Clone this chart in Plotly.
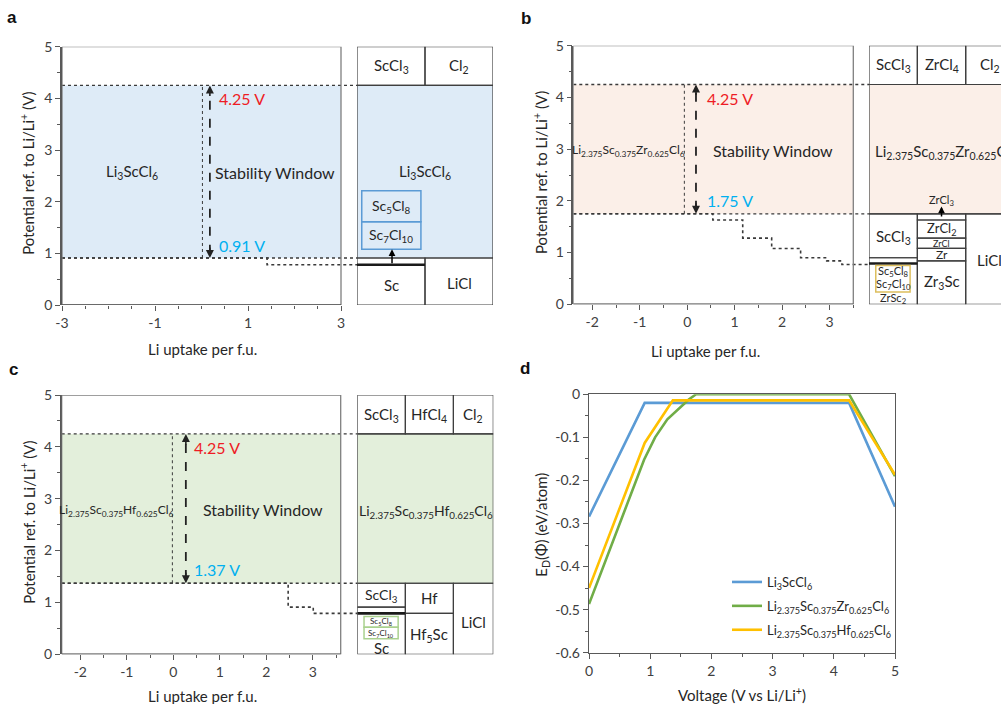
import plotly.graph_objects as go

W, H = 1001, 704
FONT = "Lato"
INK = "#262626"
AXC = "#595959"
DOTC = "#3a3a3a"
TICKC = "#404040"
RED = "#EE1C25"
CYAN = "#00B0F0"

# ============================ DATA ============================
# ---- panel a : Li3ScCl6 ----
A_NAME = "Li<sub>3</sub>ScCl<sub>6</sub>"
A_XRANGE = [-3, 3]
A_XTICKS = [-3, -1, 1, 3]
A_WINDOW = [0.91, 4.25]
A_STEP_X = [1.41]
A_STEP_Y = [0.78]
A_BOX_CELLS = [(0, 1, 4.25, 5), (1, 2, 4.25, 5), (0, 2, 0.91, 4.25),
               (0, 1, 0, 0.91), (1, 2, 0, 0.91)]
A_BOX_THICK = [(0, 1, 0.78)]
A_BOX_TEXT = [(0.5, 4.63, "ScCl<sub>3</sub>", 15, "center"),
              (1.5, 4.63, "Cl<sub>2</sub>", 15, "center"),
              (1.0, 2.57, A_NAME, 15, "center"),
              (0.5, 0.39, "Sc", 15, "center"),
              (1.5, 0.43, "LiCl", 15, "center"),
              (0.5, 1.90, "Sc<sub>5</sub>Cl<sub>8</sub>", 14, "center"),
              (0.5, 1.35, "Sc<sub>7</sub>Cl<sub>10</sub>", 14, "center")]
A_INSET = [(0.07, 0.94, 1.61, 2.21), (0.07, 0.94, 1.08, 1.61)]
A_BOX_ARROWS = [(0.515, 0.78, 1.08, "black")]

# ---- panel b : Li2.375Sc0.375Zr0.625Cl6 ----
B_NAME = "Li<sub>2.375</sub>Sc<sub>0.375</sub>Zr<sub>0.625</sub>Cl<sub>6</sub>"
B_XRANGE = [-2.4, 3.5]
B_XTICKS = [-2, -1, 0, 1, 2, 3]
B_WINDOW = [1.75, 4.25]
B_STEP_X = [0.54, 1.17, 1.78, 2.39, 2.94, 3.26]
B_STEP_Y = [1.63, 1.28, 1.08, 0.90, 0.84, 0.77]
B_BOX_CELLS = [(0, 1, 4.25, 5), (1, 2, 4.25, 5), (2, 3, 4.25, 5), (0, 3, 1.75, 4.25),
               (0, 1, 0.90, 1.75), (0, 1, 0, 0.90),
               (1, 2, 1.63, 1.75), (1, 2, 1.28, 1.63), (1, 2, 1.08, 1.28),
               (1, 2, 0.84, 1.08), (1, 2, 0, 0.84), (2, 3, 0, 1.75)]
B_BOX_THICK = [(0, 1, 0.79)]
B_BOX_TEXT = [(0.5, 4.63, "ScCl<sub>3</sub>", 15, "center"),
              (1.5, 4.63, "ZrCl<sub>4</sub>", 15, "center"),
              (2.5, 4.63, "Cl<sub>2</sub>", 15, "center"),
              (0.08, 2.95, B_NAME, 15, "left"),
              (0.5, 1.31, "ScCl<sub>3</sub>", 15, "center"),
              (1.5, 1.45, "ZrCl<sub>2</sub>", 13, "center"),
              (1.5, 1.18, "ZrCl", 9, "center"),
              (1.5, 0.96, "Zr", 12, "center"),
              (1.5, 0.43, "Zr<sub>3</sub>Sc", 15, "center"),
              (2.5, 0.86, "LiCl", 15, "center"),
              (1.5, 2.00, "ZrCl<sub>3</sub>", 11, "center"),
              (0.5, 0.63, "Sc<sub>5</sub>Cl<sub>8</sub>", 11, "center"),
              (0.5, 0.39, "Sc<sub>7</sub>Cl<sub>10</sub>", 11, "center"),
              (0.5, 0.12, "ZrSc<sub>2</sub>", 11, "center")]
B_INSET = [(0.14, 0.85, 0.24, 0.75)]
B_BOX_ARROWS = [(1.5, 1.67, 1.89, "black"), (0.5, 0.74, 0.80, "#FFC000")]

# ---- panel c : Li2.375Sc0.375Hf0.625Cl6 ----
C_NAME = "Li<sub>2.375</sub>Sc<sub>0.375</sub>Hf<sub>0.625</sub>Cl<sub>6</sub>"
C_XRANGE = [-2.4, 3.6]
C_XTICKS = [-2, -1, 0, 1, 2, 3]
C_WINDOW = [1.37, 4.25]
C_STEP_X = [2.47, 3.01]
C_STEP_Y = [0.91, 0.79]
C_BOX_CELLS = [(0, 1, 4.25, 5), (1, 2, 4.25, 5), (2, 2.83, 4.25, 5), (0, 2.83, 1.37, 4.25),
               (0, 1, 0.91, 1.37), (0, 1, 0, 0.91),
               (1, 2, 0.79, 1.37), (1, 2, 0, 0.79), (2, 2.83, 0, 1.37)]
C_BOX_THICK = [(0, 1, 0.79)]
C_BOX_TEXT = [(0.5, 4.61, "ScCl<sub>3</sub>", 15, "center"),
              (1.5, 4.61, "HfCl<sub>4</sub>", 15, "center"),
              (2.41, 4.61, "Cl<sub>2</sub>", 15, "center"),
              (1.42, 2.75, C_NAME, 14, "center"),
              (0.5, 1.13, "ScCl<sub>3</sub>", 14, "center"),
              (1.5, 1.08, "Hf", 15, "center"),
              (1.5, 0.37, "Hf<sub>5</sub>Sc", 15, "center"),
              (2.41, 0.63, "LiCl", 15, "center"),
              (0.5, 0.13, "Sc", 15, "center"),
              (0.5, 0.63, "Sc<sub>5</sub>Cl<sub>8</sub>", 8, "center"),
              (0.5, 0.41, "Sc<sub>7</sub>Cl<sub>10</sub>", 8, "center")]
C_INSET = [(0.14, 0.85, 0.52, 0.73), (0.14, 0.85, 0.30, 0.52)]
C_BOX_ARROWS = [(0.5, 0.73, 0.79, "#70AD47")]

# ---- panel d : decomposition energy vs voltage ----
D_NAMES = [A_NAME, B_NAME, C_NAME]
D_COLORS = ["#5B9BD5", "#70AD47", "#FFC000"]
D_V = [[0, 0.78, 0.91, 4.25, 5],
       [0, 0.90, 1.08, 1.28, 1.63, 1.75, 4.25, 5],
       [0, 0.91, 1.37, 4.25, 5]]
D_E = [[-0.284, -0.058, -0.020, -0.020, -0.261],
       [-0.487, -0.152, -0.100, -0.058, -0.012, 0.0, 0.0, -0.190],
       [-0.450, -0.113, -0.014, -0.014, -0.187]]
D_YTICKS = [0, -0.1, -0.2, -0.3, -0.4, -0.5, -0.6]
D_XTICKS = [0, 1, 2, 3, 4, 5]

Y_TICKS = [0, 1, 2, 3, 4, 5]
Y_TITLE = "Potential ref. to Li/Li<sup>+</sup> (V)"
X_TITLE = "Li uptake per f.u."

# ============================ LAYOUT HELPERS ============================
def px(x):
    return x / W


def py(y):
    return 1 - y / H


def lab(v):
    return "%g" % v


def paper_text(x, y, text, size, color=INK, family=FONT, angle=0):
    return dict(xref="paper", yref="paper", x=px(x), y=py(y), text=text, textangle=angle,
                xanchor="center", yanchor="middle", showarrow=False,
                font=dict(size=size, color=color, family=family))


fig = go.Figure()
layout = dict(shapes=[], annotations=[])

PANELS = [
    dict(i=1, bi=5, name=A_NAME, xr=A_XRANGE, xt=A_XTICKS, win=A_WINDOW, sx=A_STEP_X, sy=A_STEP_Y,
         fill="#DEEBF7", L=62, R=341, B=357, BR=493, TOP=46.7, BOT=305, bxr=[0, 2],
         cells=A_BOX_CELLS, thick=A_BOX_THICK, texts=A_BOX_TEXT, inset=A_INSET,
         inset_col="#5B9BD5", arrows=A_BOX_ARROWS, divx=0.02, arrx=0.18,
         lbl=(-1.49, 2.57, 15), sw=(1.58, 2.57), vx=0.33, up_y=4.0, lo_dy=0.25,
         ytx=28, xtx=202, xty=349, letter=("a", 12, 18)),
    dict(i=2, bi=6, name=B_NAME, xr=B_XRANGE, xt=B_XTICKS, win=B_WINDOW, sx=B_STEP_X, sy=B_STEP_Y,
         fill="#FBEFE8", L=573.3, R=853.3, B=869, BR=1001, TOP=45.7, BOT=304.3, bxr=[0, 132 / 48.35],
         cells=B_BOX_CELLS, thick=B_BOX_THICK, texts=B_BOX_TEXT, inset=B_INSET,
         inset_col="#DDBF5E", arrows=B_BOX_ARROWS, divx=-0.06, arrx=0.185,
         lbl=(-1.23, 2.97, 12), sw=(1.80, 2.97), vx=0.375, up_y=3.98, lo_dy=0.25,
         ytx=540, xtx=705, xty=351, letter=("b", 526, 19)),
    dict(i=3, bi=7, name=C_NAME, xr=C_XRANGE, xt=C_XTICKS, win=C_WINDOW, sx=C_STEP_X, sy=C_STEP_Y,
         fill="#E3EFDB", L=61.7, R=340.7, B=357.3, BR=493.3, TOP=395, BOT=654.3, bxr=[0, 2.83],
         cells=C_BOX_CELLS, thick=C_BOX_THICK, texts=C_BOX_TEXT, inset=C_INSET,
         inset_col="#A9D18E", arrows=C_BOX_ARROWS, divx=-0.02, arrx=0.27,
         lbl=(-1.22, 2.78, 12), sw=(1.93, 2.80), vx=0.40, up_y=3.99, lo_dy=0.26,
         ytx=28, xtx=202, xty=696, letter=("c", 13, 369)),
]


def axname(k, i):
    return k + ("axis" if i == 1 else "axis%d" % i)


def axref(k, i):
    return k if i == 1 else "%s%d" % (k, i)


for P in PANELS:
    i, bi = P["i"], P["bi"]
    xr = P["xr"]
    ppu = (P["R"] - P["L"]) / (xr[1] - xr[0])
    xend = xr[1] + (P["B"] - P["R"]) / ppu
    X, Y = axref("x", i), axref("y", i)
    BX, BY = axref("x", bi), axref("y", bi)
    ydom = [py(P["BOT"]), py(P["TOP"])]
    minor_vals = [v / 2 for v in range(int(xr[0] * 2) - 1, int(xr[1] * 2) + 2) if xr[0] <= v / 2 <= xr[1]]
    layout[axname("x", i)] = dict(
        domain=[px(P["L"]), px(P["B"])], range=[xr[0], xend], anchor=Y, automargin=False,
        showline=False, showgrid=False, zeroline=False,
        tickmode="array", tickvals=P["xt"], ticktext=[lab(v) for v in P["xt"]],
        ticks="outside", ticklen=5, tickwidth=1.3, tickcolor=AXC,
        minor=dict(tickmode="array", tickvals=minor_vals, ticks="outside", ticklen=3,
                   tickwidth=1.2, tickcolor=AXC),
        tickfont=dict(size=14, color=TICKC, family=FONT), fixedrange=True)
    layout[axname("y", i)] = dict(
        domain=ydom, range=[0, 5], anchor=X, automargin=False, showline=True, linecolor=AXC,
        linewidth=1.5, showgrid=False, zeroline=False, tickmode="array", tickvals=Y_TICKS,
        ticktext=[lab(v) for v in Y_TICKS], ticks="outside", ticklen=5, tickwidth=1.3,
        tickcolor=AXC, minor=dict(dtick=0.5, ticks="outside", ticklen=3, tickwidth=1.2, tickcolor=AXC),
        tickfont=dict(size=14, color=TICKC, family=FONT), fixedrange=True)
    layout[axname("x", bi)] = dict(domain=[px(P["B"]), px(P["BR"])], range=P["bxr"], anchor=BY,
                                   visible=False, automargin=False, fixedrange=True)
    layout[axname("y", bi)] = dict(domain=ydom, range=[0, 5], anchor=BX, visible=False,
                                   automargin=False, fixedrange=True)

    lo, hi = P["win"]
    S = layout["shapes"]
    S.append(dict(type="rect", xref=X, yref=Y, x0=xr[0], x1=xr[1], y0=lo, y1=hi,
                  fillcolor=P["fill"], line=dict(width=0), layer="below"))
    S.append(dict(type="rect", xref=BX, yref=BY, x0=0, x1=3, y0=lo, y1=hi,
                  fillcolor=P["fill"], line=dict(width=0), layer="below"))
    S.append(dict(type="rect", xref=X, yref=Y, x0=xr[0], x1=xr[1], y0=0, y1=5,
                  line=dict(color="#7f7f7f", width=1.3)))
    S.append(dict(type="line", xref=X, yref=Y, x0=xr[0], x1=xr[1], y0=0, y1=0,
                  line=dict(color=AXC, width=1.5)))
    for (c0, c1, v0, v1) in P["cells"]:
        S.append(dict(type="rect", xref=BX, yref=BY, x0=c0, x1=c1, y0=v0, y1=v1,
                      line=dict(color="#3f3f3f", width=1.2)))
    for (c0, c1, v) in P["thick"]:
        S.append(dict(type="line", xref=BX, yref=BY, x0=c0, x1=c1, y0=v, y1=v,
                      line=dict(color="#1a1a1a", width=2.6)))
    for (c0, c1, v0, v1) in P["inset"]:
        S.append(dict(type="rect", xref=BX, yref=BY, x0=c0, x1=c1, y0=v0, y1=v1,
                      line=dict(color=P["inset_col"], width=1.5)))

    fig.add_trace(go.Scatter(x=[xr[0], xend], y=[hi, hi], xaxis=X, yaxis=Y, mode="lines",
                             line=dict(color=DOTC, width=1.3, dash="dot"), hoverinfo="skip",
                             showlegend=False))
    xs, ys, cur = [xr[0]], [lo], lo
    for a, b in zip(P["sx"], P["sy"]):
        xs += [a, a]
        ys += [cur, b]
        cur = b
    xs.append(xend)
    ys.append(cur)
    fig.add_trace(go.Scatter(x=xs, y=ys, xaxis=X, yaxis=Y, mode="lines",
                             line=dict(color=DOTC, width=1.6, dash="dot"), hoverinfo="skip",
                             showlegend=False))
    fig.add_trace(go.Scatter(x=[xr[0], xend], y=[lo, lo], xaxis=X, yaxis=Y, mode="lines",
                             line=dict(color=DOTC, width=1.3, dash="dot"), hoverinfo="skip",
                             showlegend=False))
    fig.add_trace(go.Scatter(x=[P["divx"], P["divx"]], y=[lo, hi], xaxis=X, yaxis=Y, mode="lines",
                             line=dict(color=DOTC, width=1.0, dash="dot"), hoverinfo="skip",
                             showlegend=False))
    fig.add_trace(go.Scatter(x=[P["arrx"], P["arrx"]], y=[lo + 0.08, hi - 0.08], xaxis=X, yaxis=Y,
                             mode="lines", line=dict(color="#222", width=1.8, dash="dash"),
                             hoverinfo="skip", showlegend=False))
    A = layout["annotations"]
    for yv, ay in ((hi, 12), (lo, -12)):
        A.append(dict(xref=X, yref=Y, x=P["arrx"], y=yv, ax=0, ay=ay, text="", showarrow=True,
                      arrowhead=2, arrowsize=1, arrowwidth=1.6, arrowcolor="#222", standoff=0))
    fig.add_trace(go.Scatter(x=[0], y=[0], xaxis=BX, yaxis=BY, mode="markers",
                             marker=dict(opacity=0), hoverinfo="skip", showlegend=False))

    lx, ly, lsz = P["lbl"]
    A.append(dict(xref=X, yref=Y, x=lx, y=ly, text=P["name"], showarrow=False,
                  font=dict(size=lsz, color=INK, family=FONT)))
    A.append(dict(xref=X, yref=Y, x=P["sw"][0], y=P["sw"][1], text="Stability Window",
                  showarrow=False, font=dict(size=16, color=INK, family=FONT)))
    A.append(dict(xref=X, yref=Y, x=P["vx"], y=P["up_y"], text="%.2f V" % hi, xanchor="left",
                  showarrow=False, font=dict(size=16, color=RED, family=FONT)))
    A.append(dict(xref=X, yref=Y, x=P["vx"], y=lo + P["lo_dy"], text="%.2f V" % lo, xanchor="left",
                  showarrow=False, font=dict(size=16, color=CYAN, family=FONT)))
    for (cx, v, t, sz, anc) in P["texts"]:
        A.append(dict(xref=BX, yref=BY, x=cx, y=v, text=t, xanchor=anc, showarrow=False,
                      font=dict(size=sz, color=INK, family=FONT)))
    for (cx, v0, v1, col) in P["arrows"]:
        A.append(dict(xref=BX, yref=BY, axref=BX, ayref=BY, x=cx, y=v1, ax=cx, ay=v0, text="",
                      showarrow=True, arrowhead=2, arrowsize=0.9, arrowwidth=1.5,
                      arrowcolor=col, standoff=0))
    A.append(paper_text(P["ytx"], (P["TOP"] + P["BOT"]) / 2 - 2, Y_TITLE, 15, angle=-90))
    A.append(paper_text(P["xtx"], P["xty"], X_TITLE, 15))
    L_, lxp, lyp = P["letter"]
    A.append(paper_text(lxp, lyp, "<b>%s</b>" % L_, 17, color="#111", family="Liberation Sans"))

# ---- panel d ----
for k, (name, col, v, e) in enumerate(zip(D_NAMES, D_COLORS, D_V, D_E)):
    fig.add_trace(go.Scatter(x=v, y=e, xaxis="x4", yaxis="y4", mode="lines", name=name,
                             legendgroup="g%d" % k,
                             line=dict(color=col, width=2.6), hoverinfo="skip"))

layout["xaxis4"] = dict(domain=[px(589), px(895)], range=[0, 5], anchor="y4", showline=True,
                        automargin=False,
                        mirror=True, linecolor=AXC, linewidth=1.4, showgrid=False, zeroline=False,
                        tickmode="array", tickvals=D_XTICKS, ticktext=[lab(v) for v in D_XTICKS],
                        ticks="outside", ticklen=5, tickwidth=1.3, tickcolor=AXC,
                        minor=dict(dtick=0.5, ticks="outside", ticklen=3, tickwidth=1.2, tickcolor=AXC),
                        tickfont=dict(size=14, color=TICKC, family=FONT), fixedrange=True)
layout["yaxis4"] = dict(domain=[py(652.7), py(394.3)], range=[-0.6, 0], anchor="x4", showline=True,
                        automargin=False,
                        mirror=True, linecolor=AXC, linewidth=1.4, showgrid=False, zeroline=False,
                        tickmode="array", tickvals=D_YTICKS, ticktext=[lab(v) for v in D_YTICKS],
                        ticks="outside", ticklen=5, tickwidth=1.3, tickcolor=AXC,
                        minor=dict(dtick=0.05, ticks="outside", ticklen=3, tickwidth=1.2, tickcolor=AXC),
                        tickfont=dict(size=14, color=TICKC, family=FONT), fixedrange=True)
layout["annotations"] += [
    paper_text(541.7, 525, "E<sub>D</sub>(Φ) (eV/atom)", 15, angle=-90),
    paper_text(742, 694, "Voltage (V vs Li/Li<sup>+</sup>)", 15),
    paper_text(525, 368, "<b>d</b>", 17, color="#111", family="Liberation Sans"),
]

fig.update_layout(
    template="none",
    width=W, height=H, autosize=False,
    margin=dict(l=0, r=0, t=0, b=0, pad=0, autoexpand=False),
    paper_bgcolor="white", plot_bgcolor="rgba(0,0,0,0)",
    font=dict(family=FONT, color=INK),
    showlegend=True,
    legend=dict(x=px(727), y=py(567), xanchor="left", yanchor="top", bgcolor="rgba(0,0,0,0)",
                font=dict(size=13, color=INK, family=FONT), itemwidth=30, tracegroupgap=4,
                borderwidth=0),
    **layout,
)

fig.write_html("out.html", config={"displayModeBar": False},
               post_script="document.body.style.margin='0';document.body.style.overflow='hidden';")
